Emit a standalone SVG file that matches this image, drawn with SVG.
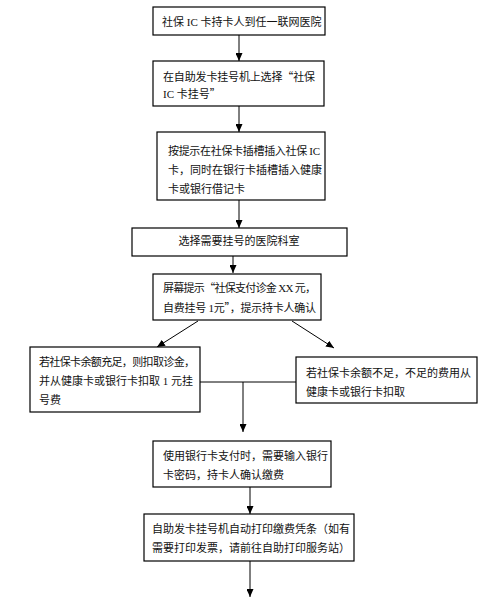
<svg xmlns="http://www.w3.org/2000/svg" width="500" height="597" viewBox="0 0 500 597">
<style>
.box{fill:#fff;stroke:#000;stroke-width:1.2}
.t{font-family:"Liberation Serif","Noto Sans CJK SC",serif;font-size:11px;fill:#111}
.q{font-family:"Noto Sans CJK SC",sans-serif}
.c{text-anchor:middle}
.ln{stroke:#000;stroke-width:1;fill:none}
</style>
<defs>
<marker id="ah" markerUnits="userSpaceOnUse" markerWidth="8" markerHeight="7" refX="8" refY="3.5" orient="auto">
<path d="M0,0 L8,3.5 L0,7 z" fill="#000"/>
</marker>
</defs>
<rect width="500" height="597" fill="#fff"/>
<g id="connectors">
<line class="ln" x1="239" y1="35" x2="239" y2="61" marker-end="url(#ah)"/>
<line class="ln" x1="239" y1="106" x2="239" y2="132" marker-end="url(#ah)"/>
<line class="ln" x1="239" y1="200" x2="239" y2="228" marker-end="url(#ah)"/>
<line class="ln" x1="233" y1="256" x2="233" y2="273" marker-end="url(#ah)"/>
<line class="ln" x1="198" y1="321" x2="157" y2="347" marker-end="url(#ah)"/>
<line class="ln" x1="292" y1="321" x2="334" y2="348" marker-end="url(#ah)"/>
<line class="ln" x1="200" y1="382" x2="296" y2="382"/>
<line class="ln" x1="243" y1="382" x2="243" y2="432" marker-end="url(#ah)"/>
<line class="ln" x1="250" y1="487" x2="250" y2="514" marker-end="url(#ah)"/>
<line class="ln" x1="250" y1="561" x2="250" y2="597" marker-end="url(#ah)"/>
</g>
<g id="n1">
<rect class="box" x="153" y="7" width="172" height="28"/>
<text class="t" x="162" y="26">社保 IC 卡持卡人到任一联网医院</text>
</g>
<g id="n2">
<rect class="box" x="153" y="61" width="171" height="45"/>
<text class="t" x="163" y="81" textLength="152">在自助发卡挂号机上选择<tspan class="q">“</tspan>社保</text>
<text class="t" x="163" y="98">IC 卡挂号<tspan class="q">”</tspan></text>
</g>
<g id="n3">
<rect class="box" x="157" y="132" width="168" height="68"/>
<text class="t" x="168" y="155" textLength="152">按提示在社保卡插槽插入社保 IC</text>
<text class="t" x="168" y="174">卡，同时在银行卡插槽插入健康</text>
<text class="t" x="168" y="193">卡或银行借记卡</text>
</g>
<g id="n4">
<rect class="box" x="132" y="228" width="215" height="28"/>
<text class="t c" x="239" y="245">选择需要挂号的医院科室</text>
</g>
<g id="n5">
<rect class="box" x="153" y="274" width="168" height="46"/>
<text class="t" x="163" y="292" textLength="153">屏幕提示<tspan class="q">“</tspan>社保支付诊金 XX 元，</text>
<text class="t" x="163" y="312" textLength="153">自费挂号 1元<tspan class="q">”</tspan>，提示持卡人确认</text>
</g>
<g id="n6">
<rect class="box" x="30" y="347" width="170" height="65"/>
<text class="t" x="39" y="366" textLength="156">若社保卡余额充足，则扣取诊金，</text>
<text class="t" x="39" y="385">并从健康卡或银行卡扣取 1 元挂</text>
<text class="t" x="39" y="404">号费</text>
</g>
<g id="n7">
<rect class="box" x="296" y="357" width="181" height="46"/>
<text class="t" x="306" y="377">若社保卡余额不足，不足的费用从</text>
<text class="t" x="306" y="396">健康卡或银行卡扣取</text>
</g>
<g id="n8">
<rect class="box" x="153" y="441" width="178" height="46"/>
<text class="t" x="163" y="460">使用银行卡支付时，需要输入银行</text>
<text class="t" x="163" y="479">卡密码，持卡人确认缴费</text>
</g>
<g id="n9">
<rect class="box" x="144" y="514" width="210" height="47"/>
<text class="t" x="152" y="533">自助发卡挂号机自动打印缴费凭条（如有</text>
<text class="t" x="152" y="552">需要打印发票，请前往自助打印服务站）</text>
</g>
</svg>
